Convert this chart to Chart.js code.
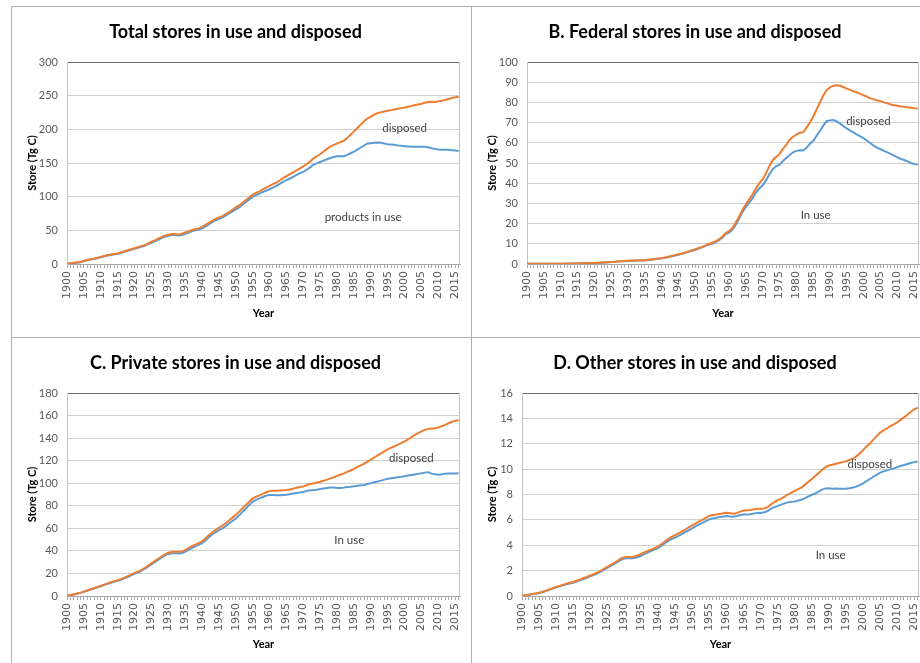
<!DOCTYPE html>
<html>
<head>
<meta charset="utf-8">
<script src="https://cdn.jsdelivr.net/npm/chart.js@4.4.1/dist/chart.umd.min.js"></script>
<style>
    body { margin: 0; background: #fff; }
    #page { position: relative; width: 920px; height: 663px; overflow: hidden; background: #fff; }
    .rule { position: absolute; background: #b0b0b0; }
    .panel { position: absolute; }
    .panel canvas { display: block; }
</style>
</head>
<body>
<div id="page">
    <div class="rule" style="left:11px;top:6px;width:909px;height:1px"></div>
    <div class="rule" style="left:11px;top:337px;width:909px;height:1px"></div>
    <div class="rule" style="left:11px;top:6px;width:1px;height:657px"></div>
    <div class="rule" style="left:471px;top:6px;width:1px;height:657px"></div>

    <div class="panel" style="left:11px;top:6px"><canvas id="chartA" width="460" height="331"></canvas></div>
    <div class="panel" style="left:471px;top:6px"><canvas id="chartB" width="449" height="331"></canvas></div>
    <div class="panel" style="left:11px;top:337px"><canvas id="chartC" width="460" height="326"></canvas></div>
    <div class="panel" style="left:471px;top:337px"><canvas id="chartD" width="449" height="326"></canvas></div>
</div>

<script>
// years on the x axis
const years = [
    1900, 1901, 1902, 1903, 1904, 1905, 1906, 1907, 1908, 1909,
    1910, 1911, 1912, 1913, 1914, 1915, 1916, 1917, 1918, 1919,
    1920, 1921, 1922, 1923, 1924, 1925, 1926, 1927, 1928, 1929,
    1930, 1931, 1932, 1933, 1934, 1935, 1936, 1937, 1938, 1939,
    1940, 1941, 1942, 1943, 1944, 1945, 1946, 1947, 1948, 1949,
    1950, 1951, 1952, 1953, 1954, 1955, 1956, 1957, 1958, 1959,
    1960, 1961, 1962, 1963, 1964, 1965, 1966, 1967, 1968, 1969,
    1970, 1971, 1972, 1973, 1974, 1975, 1976, 1977, 1978, 1979,
    1980, 1981, 1982, 1983, 1984, 1985, 1986, 1987, 1988, 1989,
    1990, 1991, 1992, 1993, 1994, 1995, 1996, 1997, 1998, 1999,
    2000, 2001, 2002, 2003, 2004, 2005, 2006, 2007, 2008, 2009,
    2010, 2011, 2012, 2013, 2014, 2015, 2016
];

// A. Total (Tg C)
const totalDisposed = [
    0, 1, 2, 2.5, 3, 5, 6, 7, 8, 9.5,
    10.5, 12, 13, 14, 15, 15.5, 17, 19, 20.5, 22,
    23.5, 25, 26.5, 28, 30.5, 33, 35, 37.5, 40, 42,
    43.5, 44.5, 44.5, 44, 45, 47, 48.5, 50.5, 51.5, 52.5,
    55, 58, 61, 64, 67, 69, 71, 74, 77, 80.5,
    84, 87, 91, 95, 99, 103, 105.5, 108, 111, 113.5,
    116, 118.5, 121, 124, 127.5, 130.5, 133.5, 136, 139, 142,
    145, 148.5, 152, 157, 160, 163, 167, 171, 174.5, 177,
    179, 181, 183, 187, 192, 197, 202, 207, 212, 216,
    219, 222, 224, 225.5, 226.5, 227.5, 228.5, 229.5, 230.5, 231.5,
    232.5, 233.5, 234.5, 236, 237, 238, 239.5, 240.5, 241, 240.5,
    241.5, 242.5, 243.5, 245, 246.5, 247.5, 248.5
];
const totalInUse = [
    0, 1, 1.5, 2, 2.5, 4.5, 5.5, 6.5, 7.5, 9,
    10, 11.5, 12.5, 13.5, 14.5, 15, 16.5, 18, 19.5, 21,
    22.5, 24, 25.5, 27, 29.5, 31.5, 33.5, 36, 38.5, 40.5,
    42, 43, 43, 42.5, 43, 44.5, 46.5, 49, 50, 51,
    53, 56, 59, 62, 65, 67, 69, 72, 75, 78,
    81, 84, 88, 92, 96, 100, 102.5, 104.5, 107, 109,
    111, 113.5, 116, 119, 122, 124.5, 127, 129.5, 132.5, 135,
    137, 140, 143.5, 147.5, 149.5, 151.5, 153.5, 155.5, 157.5, 159,
    160, 160, 160, 162, 164.5, 167, 170, 173, 176, 179,
    179.5, 180, 180.5, 180, 179, 178, 177.5, 177, 176, 175.5,
    175, 174.5, 174, 174, 174, 174, 174, 173.5, 172, 171,
    170, 169.5, 169.5, 169.5, 169, 168.5, 168
];

// B. Federal (Tg C)
const federalDisposed = [
    0.1, 0.1, 0.1, 0.1, 0.1, 0.1, 0.1, 0.1, 0.1, 0.1,
    0.1, 0.1, 0.2, 0.2, 0.2, 0.3, 0.4, 0.4, 0.4, 0.5,
    0.5, 0.6, 0.7, 0.8, 0.9, 1.0, 1.1, 1.3, 1.4, 1.5,
    1.6, 1.7, 1.7, 1.8, 1.8, 1.9, 2.1, 2.3, 2.5, 2.7,
    2.9, 3.2, 3.6, 4.0, 4.4, 4.8, 5.2, 5.7, 6.2, 6.8,
    7.3, 7.9, 8.5, 9.2, 9.9, 10.5, 11.2, 12.2, 13.5, 15.3,
    16.3, 17.8, 20.5, 23.5, 26.8, 29.5, 32.0, 34.5, 37.5, 40.0,
    42.0, 45.0, 48.5, 51.5, 53.0, 54.5, 57.0, 59.0, 61.5, 63.0,
    64.0, 65.0, 65.2, 67.5, 70.0, 73.0, 76.5, 80.0, 83.5, 86.0,
    87.5, 88.3, 88.5, 88.2, 87.5, 86.8, 86.2, 85.5, 84.9, 84.2,
    83.5, 82.8, 82.0, 81.5, 81.0, 80.6, 80.0, 79.5, 79.0, 78.6,
    78.3, 78.0, 77.8, 77.6, 77.3, 77.1, 77.0
];
const federalInUse = [
    0.1, 0.1, 0.1, 0.1, 0.1, 0.1, 0.1, 0.1, 0.1, 0.1,
    0.1, 0.1, 0.15, 0.15, 0.2, 0.25, 0.35, 0.35, 0.4, 0.45,
    0.5, 0.55, 0.65, 0.75, 0.85, 0.95, 1.05, 1.2, 1.3, 1.4,
    1.5, 1.6, 1.6, 1.7, 1.7, 1.8, 2.0, 2.2, 2.4, 2.6,
    2.8, 3.1, 3.4, 3.8, 4.2, 4.6, 5.0, 5.5, 6.0, 6.5,
    7.0, 7.6, 8.2, 9.0, 9.6, 10.0, 10.8, 11.8, 13.0, 14.8,
    15.5, 17.0, 19.5, 22.5, 25.8, 28.3, 30.5, 32.5, 35.5, 37.5,
    39.0, 41.5, 44.5, 47.0, 48.5, 49.2, 51.0, 52.5, 54.0, 55.3,
    56.0, 56.3, 56.2, 57.5, 59.5, 61.0, 63.5, 66.0, 68.5, 70.8,
    71.1, 71.3, 70.6, 69.5, 68.2, 67.0, 66.0, 65.0, 64.0, 63.2,
    62.2, 61.0, 59.8, 58.5, 57.6, 56.8, 56.0, 55.3, 54.5, 53.6,
    52.8, 52.0, 51.5, 50.8, 50.0, 49.5, 49.2
];

// C. Private (Tg C)
const privateDisposed = [
    0.5, 0.8, 1.5, 2.2, 3, 4, 5, 6, 7, 8,
    9, 10, 11.2, 12.3, 13.2, 14, 15, 16.3, 17.5, 19,
    20.5, 21.5, 23, 24.8, 26.8, 29, 31, 33, 35, 37,
    38.3, 39, 39.3, 39.2, 39.5, 40.7, 42.5, 44.2, 45.5, 46.8,
    48.5, 51, 53.8, 56.3, 58.5, 60.5, 62.5, 64.5, 67, 69.5,
    72, 74.8, 77.8, 80.8, 83.8, 86.5, 88, 89.2, 90.5, 92,
    93, 93.3, 93.3, 93.5, 93.8, 94, 94.5, 95.2, 96, 96.6,
    97.2, 98.2, 99.2, 100, 100.6, 101.3, 102.2, 103.2, 104.3, 105.3,
    106.5, 107.5, 108.7, 110, 111.3, 112.8, 114.5, 115.8, 117.3, 119.2,
    121, 122.8, 124.6, 126.4, 128.2, 130, 131.5, 132.8, 134.2, 135.5,
    137, 138.8, 140.8, 142.8, 144.5, 146, 147.3, 148.2, 148.5, 148.6,
    149.5, 150.5, 151.8, 153.2, 154.5, 155.3, 156
];
const privateInUse = [
    0.3, 0.6, 1.2, 2, 2.8, 3.7, 4.7, 5.7, 6.7, 7.7,
    8.7, 9.7, 10.8, 11.8, 12.7, 13.4, 14.4, 15.6, 16.8, 18.3,
    19.7, 20.7, 22.2, 24, 26, 28, 30, 32, 34, 36,
    37.1, 37.8, 37.8, 37.6, 38.2, 39.2, 40.8, 42.6, 44, 45.3,
    46.8, 49.3, 52, 54.5, 56.5, 58.3, 60, 62, 64.3, 66.5,
    68.8, 71.6, 74.6, 77.6, 80.8, 83.8, 85.3, 86.5, 87.8, 89,
    89.6, 89.6, 89.4, 89.4, 89.6, 89.8, 90.3, 90.8, 91.4, 91.8,
    92.3, 93.2, 93.8, 94, 94.3, 94.8, 95.3, 95.8, 96.1, 96.1,
    95.8, 95.7, 96.1, 96.6, 96.9, 97.3, 97.8, 98.2, 98.5, 99.3,
    100.1, 100.8, 101.5, 102.3, 103.2, 104, 104.4, 104.8, 105.3, 105.7,
    106.2, 106.8, 107.3, 107.8, 108.3, 108.8, 109.4, 109.8, 108.5, 107.9,
    107.6, 107.9, 108.5, 108.7, 108.7, 108.6, 108.8
];

// D. Other (Tg C)
const otherDisposed = [
    0.02, 0.06, 0.1, 0.15, 0.2, 0.25, 0.33, 0.42, 0.52, 0.62,
    0.72, 0.8, 0.88, 0.97, 1.04, 1.1, 1.2, 1.3, 1.4, 1.5,
    1.62, 1.72, 1.83, 1.97, 2.13, 2.3, 2.45, 2.6, 2.78, 2.96,
    3.06, 3.07, 3.08, 3.12, 3.2, 3.33, 3.45, 3.57, 3.67, 3.78,
    3.92, 4.12, 4.32, 4.52, 4.68, 4.82, 4.96, 5.1, 5.26, 5.42,
    5.58, 5.73, 5.88, 6.02, 6.18, 6.33, 6.38, 6.42, 6.47, 6.52,
    6.56, 6.52, 6.48, 6.55, 6.65, 6.74, 6.76, 6.78, 6.84, 6.87,
    6.88, 6.9, 7.0, 7.22, 7.4, 7.55, 7.68, 7.84, 8.02, 8.15,
    8.28, 8.42, 8.56, 8.78, 9.0, 9.22, 9.45, 9.7, 9.95, 10.15,
    10.28, 10.34, 10.42, 10.48, 10.55, 10.62, 10.72, 10.82, 11.0, 11.22,
    11.5, 11.78, 12.02, 12.3, 12.6, 12.88, 13.05, 13.22, 13.38, 13.52,
    13.68, 13.88, 14.08, 14.28, 14.5, 14.72, 14.85
];
const otherInUse = [
    0.01, 0.05, 0.09, 0.13, 0.18, 0.23, 0.3, 0.39, 0.48, 0.58,
    0.68, 0.76, 0.84, 0.92, 0.99, 1.05, 1.14, 1.24, 1.34, 1.44,
    1.55, 1.65, 1.76, 1.9, 2.06, 2.22, 2.37, 2.52, 2.68, 2.85,
    2.95, 2.97, 2.98, 3.0, 3.07, 3.18, 3.32, 3.45, 3.56, 3.67,
    3.8, 3.98, 4.18, 4.36, 4.5, 4.62, 4.76, 4.9, 5.05, 5.2,
    5.35, 5.5, 5.64, 5.78, 5.92, 6.05, 6.12, 6.17, 6.22, 6.27,
    6.3, 6.26, 6.25, 6.3, 6.38, 6.42, 6.43, 6.45, 6.5, 6.54,
    6.55, 6.6, 6.7, 6.88, 7.0, 7.1, 7.2, 7.3, 7.38, 7.42,
    7.45, 7.52, 7.6, 7.72, 7.85, 7.98, 8.08, 8.22, 8.38, 8.48,
    8.5, 8.46, 8.48, 8.45, 8.46, 8.46, 8.5, 8.55, 8.62, 8.74,
    8.88, 9.05, 9.22, 9.4, 9.55, 9.72, 9.82, 9.9, 9.98, 10.06,
    10.16, 10.25, 10.33, 10.4, 10.48, 10.55, 10.6
];

// y axis ranges [max, step]
const yTicksA = [300, 50];
const yTicksB = [100, 10];
const yTicksC = [180, 20];
const yTicksD = [16, 2];

const ORANGE = '#ED7D31';
const BLUE = '#5B9BD5';
const SANS = 'Lato, sans-serif';

// text labels written inside the plot area, placed in data units
const notesPlugin = {
    id: 'notes',
    afterDatasetsDraw(chart, args, opts) {
        const ctx = chart.ctx;
        const xs = chart.scales.x, ys = chart.scales.y;
        ctx.save();
        ctx.font = '11.5px ' + SANS;
        ctx.fillStyle = '#404040';
        ctx.textAlign = 'center';
        ctx.textBaseline = 'middle';
        (opts.items || []).forEach(n => {
            ctx.fillText(n.text, xs.getPixelForValue(n.x), ys.getPixelForValue(n.y));
        });
        ctx.restore();
    }
};

// right edge of the plot area
const frameRight = {
    id: 'frameRight',
    beforeDatasetsDraw(chart) {
        const {ctx, chartArea} = chart;
        ctx.save();
        ctx.strokeStyle = '#c4c4c4';
        ctx.lineWidth = 1;
        ctx.beginPath();
        ctx.moveTo(Math.round(chartArea.right) - 0.5, chartArea.top);
        ctx.lineTo(Math.round(chartArea.right) - 0.5, chartArea.bottom);
        ctx.stroke();
        ctx.restore();
    }
};

function makeChart(id, opt) {
    const yMax = opt.yTicks[0];
    return new Chart(document.getElementById(id), {
        type: 'line',
        data: {
            labels: years,
            datasets: [
                { label: 'disposed', data: opt.disposed, borderColor: ORANGE, borderWidth: 2,
                  pointRadius: 0, tension: 0, fill: false },
                { label: 'in use', data: opt.inUse, borderColor: BLUE, borderWidth: 2,
                  pointRadius: 0, tension: 0, fill: false }
            ]
        },
        plugins: [notesPlugin, frameRight],
        options: {
            responsive: false,
            animation: false,
            layout: { padding: { left: 0, top: 0, right: opt.padRight, bottom: 0 } },
            plugins: {
                legend: { display: false },
                tooltip: { enabled: false },
                title: {
                    display: true,
                    text: opt.title,
                    color: '#000',
                    font: { family: SANS, size: 18, weight: 'bold', lineHeight: 1.2 },
                    padding: { top: 15, bottom: 19.4 }
                },
                notes: { items: opt.notes }
            },
            scales: {
                x: {
                    type: 'linear',
                    min: 1900,
                    max: 2016.4,
                    afterBuildTicks: (s) => { s.ticks = years.map(v => ({ value: v })); },
                    afterFit: (s) => { s.height = opt.xHeight; s.paddingLeft = 0; s.paddingRight = 0; },
                    grid: { drawOnChartArea: false, drawTicks: true, tickLength: 4, color: '#a8a8a8' },
                    border: { color: '#a8a8a8' },
                    ticks: {
                        autoSkip: false,
                        minRotation: 90,
                        maxRotation: 90,
                        padding: 3,
                        color: '#595959',
                        font: { family: "'DejaVu Sans', sans-serif", size: 11 },
                        callback: (v) => (v % 5 === 0 ? String(v) : '')
                    },
                    title: {
                        display: true,
                        text: 'Year',
                        color: '#000',
                        font: { family: SANS, size: 11, weight: 'bold' },
                        padding: { top: 0, bottom: opt.yearPad }
                    }
                },
                y: {
                    min: 0,
                    max: yMax,
                    afterFit: (s) => { s.width = opt.yWidth; s.paddingTop = 0; s.paddingBottom = 0; },
                    grid: {
                        drawTicks: false,
                        color: (c) => (c.tick && c.tick.value === yMax ? '#6e6e6e' : '#d0d0d0')
                    },
                    border: { color: '#c4c4c4' },
                    ticks: {
                        stepSize: opt.yTicks[1],
                        padding: 9,
                        color: '#595959',
                        font: { family: SANS, size: 11 }
                    },
                    title: {
                        display: true,
                        text: 'Store (Tg C)',
                        color: '#000',
                        font: { family: SANS, size: 11, weight: 'bold' },
                        padding: { top: 14.4, bottom: 0 }
                    }
                }
            }
        }
    });
}

makeChart('chartA', {
    title: 'Total stores in use and disposed',
    disposed: totalDisposed, inUse: totalInUse, yTicks: yTicksA,
    yWidth: 56, xHeight: 73, padRight: 11, yearPad: 17.4,
    notes: [{ text: 'disposed', x: 2000, y: 202 }, { text: 'products in use', x: 1987.7, y: 70 }]
});
makeChart('chartB', {
    title: 'B. Federal stores in use and disposed',
    disposed: federalDisposed, inUse: federalInUse, yTicks: yTicksB,
    yWidth: 56, xHeight: 73, padRight: 1, yearPad: 17.4,
    notes: [{ text: 'disposed', x: 2001.4, y: 70.4 }, { text: 'In use', x: 1985.7, y: 23.9 }]
});
makeChart('chartC', {
    title: 'C. Private stores in use and disposed',
    disposed: privateDisposed, inUse: privateInUse, yTicks: yTicksC,
    yWidth: 56, xHeight: 67, padRight: 11, yearPad: 12.4,
    notes: [{ text: 'disposed', x: 2002, y: 122.5 }, { text: 'In use', x: 1983.6, y: 49.5 }]
});
makeChart('chartD', {
    title: 'D. Other stores in use and disposed',
    disposed: otherDisposed, inUse: otherInUse, yTicks: yTicksD,
    yWidth: 51, xHeight: 67, padRight: 1, yearPad: 12.4,
    notes: [{ text: 'disposed', x: 2002, y: 10.4 }, { text: 'In use', x: 1990.5, y: 3.2 }]
});
</script>
</body>
</html>
